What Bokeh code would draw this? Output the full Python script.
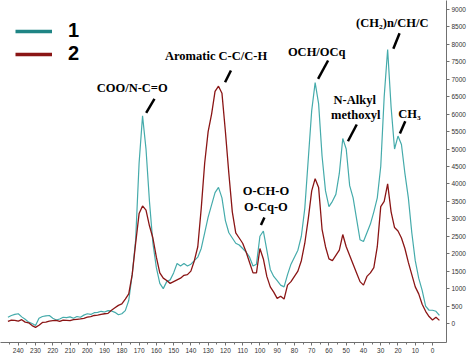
from bokeh.plotting import figure
from bokeh.models import (Range1d, FixedTicker, Legend, LegendItem, Label,
                          ColumnDataSource)
from bokeh.embed import file_html
from bokeh.resources import INLINE

# chemical shift (ppm)
ppm = [246, 244, 242, 240, 238, 236, 234, 232, 230, 228, 226, 224, 222, 220, 218,
       216, 214, 212, 210, 208, 206, 204, 202, 200, 198, 196, 194, 192, 190, 188,
       186, 184, 182, 180, 178, 176, 174, 172, 170, 168, 166, 164, 162, 160, 158,
       156, 154, 152, 150, 148, 146, 144, 142, 140, 138, 136, 134, 132, 130, 128,
       126, 124, 122, 120, 118, 116, 114, 112, 110, 108, 106, 104, 102, 100, 98,
       96, 94, 92, 90, 88, 86, 84, 82, 80, 78, 76, 74, 72, 70, 68,
       66, 64, 62, 60, 58, 56, 54, 52, 50, 48, 46, 44, 42, 40, 38,
       36, 34, 32, 30, 28, 26, 24, 22, 20, 18, 16, 14, 12, 10, 8,
       6, 4, 2, 0, -2, -4]

series1 = [180, 230, 260, 280, 190, 120, 40, 0, -60, 150, 200, 220, 230, 150, 100,
           130, 180, 170, 190, 150, 200, 180, 240, 280, 260, 310, 320, 350, 330, 370,
           360, 320, 250, 280, 370, 660, 1400, 2400, 4600, 5950, 5000, 3500, 2300, 1600, 1150,
           1000, 1200, 1250, 1450, 1720, 1650, 1720, 1650, 1700, 1800, 1900, 2150, 2600, 3050, 3400,
           3750, 3900, 3600, 2950, 2600, 2450, 2300, 2250, 2150, 2050, 1900, 1650, 1700, 2500, 2650,
           2100, 1550, 1350, 1230, 1100, 1050, 1400, 1700, 1900, 2100, 2500, 3300, 4700, 6100, 6900,
           6300, 4800, 3800, 3350, 3500, 3700, 4300, 5300, 5000, 3950, 3600, 3000, 2400, 2350, 2600,
           2850, 3200, 3600, 4500, 6500, 7850, 6200, 5000, 5370, 5130, 4300, 3600, 2600, 1800, 1300,
           950, 500, 380, 380, 350, 230]

series2 = [60, 100, 90, 70, 110, 40, 20, -60, -110, -50, 30, 40, 70, 80, 90,
           60, 100, 90, 80, 110, 120, 130, 150, 180, 200, 230, 240, 260, 280, 290,
           380, 450, 520, 560, 700, 850, 1400, 2300, 3150, 3370, 3250, 2800, 2450, 1900, 1450,
           1300, 1230, 1150, 1200, 1250, 1300, 1380, 1400, 1500, 1800, 2200, 3300, 4600, 5500, 6000,
           6650, 6800, 6600, 5500, 4300, 3200, 2600, 2450, 2300, 2050, 1750, 1450, 1450, 2150, 1850,
           1350, 1050, 900, 720, 780, 700, 1100, 1200, 1350, 1500, 1800, 2300, 3000, 3800, 4150,
           3900, 2700, 2200, 1850, 1800, 1950, 2100, 2550, 2200, 1950, 1700, 1450, 1200, 1100, 1350,
           1450, 1600, 2200, 3350, 3500, 4000, 3200, 2750, 2650, 2450, 2150, 1750, 1400, 1050, 850,
           550, 350, 200, 100, 180, 90]

series_names = ["1", "2"]
x_ticks = list(range(240, -1, -10))
x_minor = list(range(245, -1, -10))
y_ticks = list(range(0, 9001, 500))

annotations = [
    ("COO/N-C=O", 174.0, 6762),
    ("Aromatic C-C/C-H", 125.4, 7679),
    ("O-CH-O", 96.5, 3811),
    ("O-Cq-O", 96.5, 3338),
    ("OCH/OCq", 67.1, 7774),
    ("N-Alkyl", 45.1, 6410),
    ("methoxyl", 44.5, 5980),
    ("(CH\u2082)n/CH/C", 23.3, 8605),
    ("CH\u2083", 13.3, 6009),
]
leaders = [
    (161.1, 6438, 165.9, 6037),
    (116.8, 7249, 120.2, 6914),
    (97.4, 3037, 99.4, 2822),
    (60.5, 7536, 66.3, 7011),
    (43.9, 5702, 49.0, 5223),
    (19.1, 8318, 22.7, 7871),
    (15.8, 5797, 18.9, 5441),
]

TEAL_LINE = "#45abab"
TEAL_LEG = "#1f8585"
RED = "#8a1515"
NAN = float("nan")

p = figure(frame_width=446, frame_height=342, output_backend="svg",
           toolbar_location=None, x_range=Range1d(250.3, -8.1),
           y_range=Range1d(-544, 9255), x_axis_location="below",
           y_axis_location="right", min_border_left=0, min_border_top=0,
           min_border_right=0, min_border_bottom=0)
p.outline_line_color = None
p.grid.grid_line_color = None
p.background_fill_color = "white"

src = ColumnDataSource(dict(x=ppm, s1=series1, s2=series2))
p.line("x", "s1", source=src, color=TEAL_LINE, line_width=1.2)
p.line("x", "s2", source=src, color=RED, line_width=1.3)

for ax, ticks, minor in ((p.xaxis[0], x_ticks, x_minor),
                         (p.yaxis[0], y_ticks, [])):
    ax.ticker = FixedTicker(ticks=ticks, minor_ticks=minor)
    ax.axis_line_color = "#707070"
    ax.major_tick_line_color = "#707070"
    ax.minor_tick_line_color = "#707070"
    ax.major_tick_out = 3
    ax.major_tick_in = 0
    ax.minor_tick_out = 2
    ax.minor_tick_in = 0
    ax.major_label_standoff = 2
    ax.major_label_text_font = "Liberation Sans"
    ax.major_label_text_font_size = "6.5px"
    ax.major_label_text_color = "#333333"

# legend (renderers with no visible points, used only for the key)
r1 = p.line([NAN], [NAN], color=TEAL_LEG, line_width=3.5)
r2 = p.line([NAN], [NAN], color=RED, line_width=3.5)
leg = Legend(items=[LegendItem(label=series_names[0], renderers=[r1]),
                    LegendItem(label=series_names[1], renderers=[r2])],
             location=(15, 277), glyph_width=37, glyph_height=20,
             label_standoff=16, spacing=-2, padding=4, margin=0,
             border_line_color=None, background_fill_alpha=0,
             label_text_font="Liberation Sans", label_text_font_style="bold",
             label_text_font_size="20px", label_text_color="black",
             label_height=20)
p.add_layout(leg)

for txt, x, y in annotations:
    p.add_layout(Label(x=x, y=y, text=txt, text_align="center",
                       text_baseline="middle", text_font="Liberation Serif",
                       text_font_style="bold", text_font_size="12.5px",
                       text_color="black"))

p.segment(x0=[l[0] for l in leaders], y0=[l[1] for l in leaders],
          x1=[l[2] for l in leaders], y1=[l[3] for l in leaders],
          line_color="black", line_width=2.5)

open("out.html", "w").write(file_html(p, INLINE))
